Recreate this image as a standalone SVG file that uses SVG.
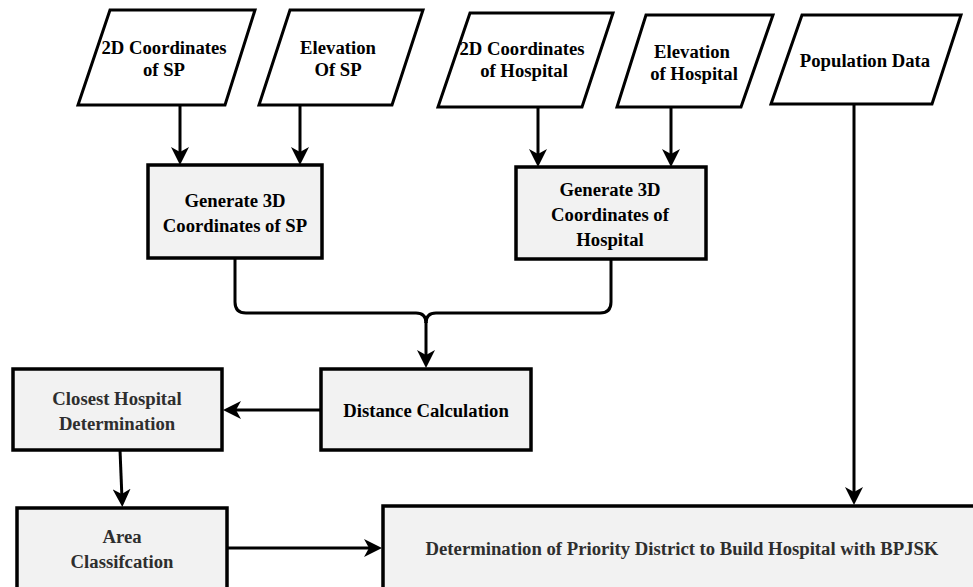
<svg xmlns="http://www.w3.org/2000/svg" width="973" height="587" viewBox="0 0 973 587">
<defs>
<style>
.io{fill:#fff;stroke:#000;stroke-width:3;stroke-linejoin:miter}
.pr{fill:#f2f2f2;stroke:#000;stroke-width:3.5}
.t{font-family:"Liberation Serif","Times New Roman",serif;font-weight:bold;font-size:18.7px;fill:#000;text-anchor:middle}
.g{fill:#2e2e2e}
.c{fill:none;stroke:#000;stroke-width:3}
</style>
<marker id="ah" markerUnits="userSpaceOnUse" viewBox="0 0 18 18" markerWidth="18" markerHeight="18" refX="10" refY="9" orient="auto">
<path d="M0,0 L18,9 L0,18 L5,9 Z" fill="#000"/>
</marker>
</defs>
<rect width="973" height="587" fill="#fff"/>

<g id="n-2dsp">
<polygon class="io" points="110,10 255,10 225,105 78,105"/>
<text class="t" x="164" y="54">2D Coordinates</text>
<text class="t" x="164" y="76">of SP</text>
</g>
<g id="n-elsp">
<polygon class="io" points="290,10 423,10 392,105 259,105"/>
<text class="t" x="338" y="54">Elevation</text>
<text class="t" x="338" y="76">Of SP</text>
</g>
<g id="n-2dh">
<polygon class="io" points="470,13 613,13 582,107 438,107"/>
<text class="t" x="522" y="55">2D Coordinates</text>
<text class="t" x="524" y="77">of Hospital</text>
</g>
<g id="n-elh">
<polygon class="io" points="646,15 773,15 741,107 617,107"/>
<text class="t" x="692" y="58">Elevation</text>
<text class="t" x="694" y="80">of Hospital</text>
</g>
<g id="n-pop">
<polygon class="io" points="802,15 961,15 932,104 771,104"/>
<text class="t" x="865" y="67">Population Data</text>
</g>

<g id="n-gensp">
<rect class="pr" x="148" y="165" width="174" height="93"/>
<text class="t" x="235" y="207">Generate 3D</text>
<text class="t" x="235" y="232">Coordinates of SP</text>
</g>
<g id="n-genh">
<rect class="pr" x="516" y="167" width="190" height="92"/>
<text class="t" x="610" y="196">Generate 3D</text>
<text class="t" x="610" y="221">Coordinates of</text>
<text class="t" x="610" y="246">Hospital</text>
</g>
<g id="n-dist">
<rect class="pr" x="321" y="369" width="210" height="81"/>
<text class="t" x="426" y="417">Distance Calculation</text>
</g>
<g id="n-close">
<rect class="pr" x="13" y="369" width="209" height="81"/>
<text class="t g" x="117" y="405">Closest Hospital</text>
<text class="t g" x="117" y="430">Determination</text>
</g>
<g id="n-area">
<rect class="pr" x="17" y="508" width="210" height="100"/>
<text class="t g" x="122" y="543">Area</text>
<text class="t g" x="122" y="568">Classifcation</text>
</g>
<g id="n-prio">
<rect class="pr" x="383" y="506" width="610" height="100"/>
<text class="t g" x="682" y="555">Determination of Priority District to Build Hospital with BPJSK</text>
</g>

<g id="connectors">
<line class="c" x1="180" y1="105" x2="180" y2="157" marker-end="url(#ah)"/>
<line class="c" x1="300" y1="105" x2="300" y2="157" marker-end="url(#ah)"/>
<line class="c" x1="538" y1="107" x2="538" y2="159" marker-end="url(#ah)"/>
<line class="c" x1="671" y1="107" x2="671" y2="159" marker-end="url(#ah)"/>
<line class="c" x1="854" y1="104" x2="854" y2="497" marker-end="url(#ah)"/>
<path class="c" d="M235,258 V302 Q235,313 246,313 H416 Q426,313 426,323"/>
<path class="c" d="M611,259 V302 Q611,313 600,313 H436 Q426,313 426,323"/>
<line class="c" x1="426" y1="322" x2="426" y2="360" marker-end="url(#ah)"/>
<line class="c" x1="321" y1="410" x2="231" y2="410" marker-end="url(#ah)"/>
<line class="c" x1="120" y1="450" x2="122" y2="499" marker-end="url(#ah)"/>
<line class="c" x1="227" y1="548" x2="374" y2="548" marker-end="url(#ah)"/>
</g>
</svg>
